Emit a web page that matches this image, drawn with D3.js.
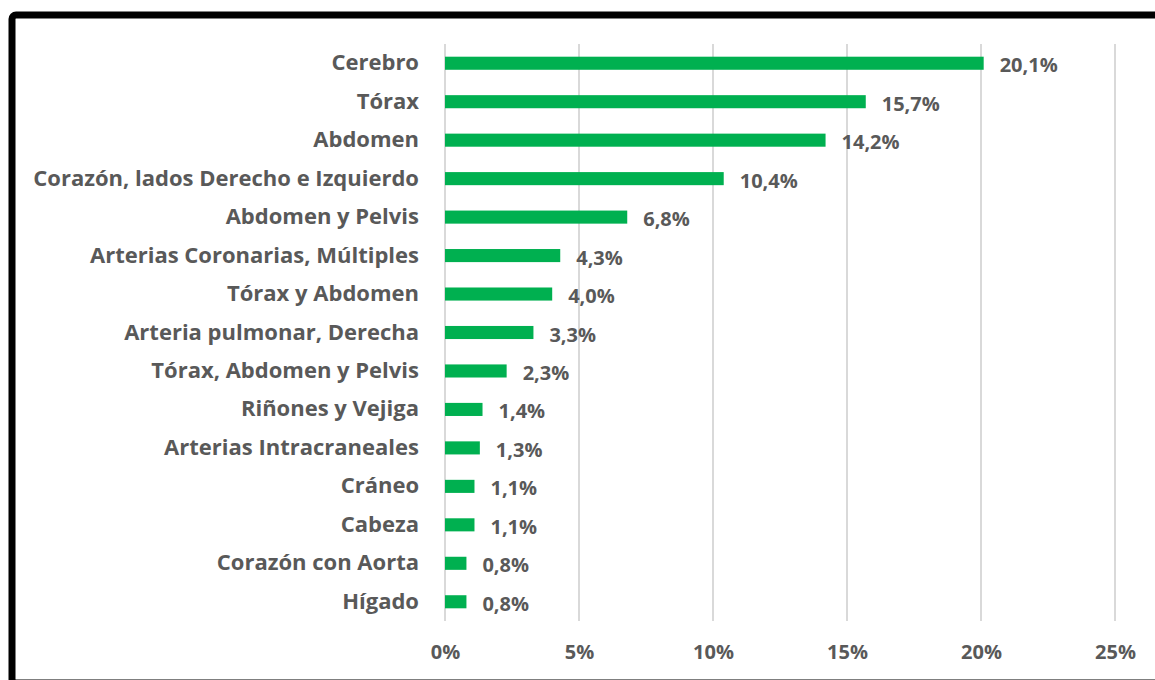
<!DOCTYPE html>
<html>
<head>
<meta charset="utf-8">
<script src="https://cdn.jsdelivr.net/npm/d3@7"></script>
<style>
  html, body { margin: 0; padding: 0; background: #fff; }
  svg { display: block; }
  text { font-family: "Open Sans", Lato, sans-serif; font-weight: bold; fill: #595959; }
</style>
</head>
<body>
<div id="chart-wrap"></div>
<script>
const categories = ['Cerebro', 'Tórax', 'Abdomen', 'Corazón, lados Derecho e Izquierdo', 'Abdomen y Pelvis',
  'Arterias Coronarias, Múltiples', 'Tórax y Abdomen', 'Arteria pulmonar, Derecha', 'Tórax, Abdomen y Pelvis',
  'Riñones y Vejiga', 'Arterias Intracraneales', 'Cráneo', 'Cabeza', 'Corazón con Aorta', 'Hígado'];
const values = [20.1, 15.7, 14.2, 10.4, 6.8, 4.3, 4.0, 3.3, 2.3, 1.4, 1.3, 1.1, 1.1, 0.8, 0.8];
const ticks = [0, 5, 10, 15, 20, 25];

const width = 1155;
const height = 680;
const margin = { top: 44, right: 40, bottom: 59, left: 445 };

const svg = d3.select('#chart-wrap').append('svg')
  .attr('width', width)
  .attr('height', height);

// frame
svg.append('rect')
  .attr('x', 12)
  .attr('y', 15)
  .attr('width', 1200)
  .attr('height', 668)
  .attr('rx', 4)
  .attr('fill', 'none')
  .attr('stroke', '#000')
  .attr('stroke-width', 7);

const x = d3.scaleLinear()
  .domain([0, 25])
  .range([margin.left, margin.left + 670]);

const y = d3.scaleBand()
  .domain(categories)
  .range([margin.top, height - margin.bottom])
  .paddingInner(0.66)
  .paddingOuter(0.33);

// gridlines
svg.append('g')
  .selectAll('line')
  .data(ticks)
  .enter()
  .append('line')
  .attr('x1', d => x(d))
  .attr('x2', d => x(d))
  .attr('y1', margin.top)
  .attr('y2', height - margin.bottom)
  .attr('stroke', '#d9d9d9')
  .attr('stroke-width', 2);

// bars
svg.append('g')
  .selectAll('rect')
  .data(values)
  .enter()
  .append('rect')
  .attr('x', x(0))
  .attr('y', (d, i) => y(categories[i]))
  .attr('width', d => x(d) - x(0))
  .attr('height', y.bandwidth())
  .attr('fill', '#00b050');

// value labels
svg.append('g')
  .selectAll('text')
  .data(values)
  .enter()
  .append('text')
  .attr('x', d => x(d) + 16)
  .attr('y', (d, i) => y(categories[i]) + y.bandwidth() / 2 + 2)
  .attr('dy', '0.35em')
  .style('font-size', '20px')
  .text(d => d.toFixed(1).replace('.', ',') + '%');

// category axis
const yAxis = svg.append('g')
  .attr('transform', `translate(${margin.left},0)`)
  .call(d3.axisLeft(y).tickSize(0).tickPadding(26));
yAxis.select('.domain').remove();
yAxis.selectAll('text')
  .style('font-size', '22px')
  .style('font-family', null)
  .attr('fill', null);

// value axis
const xAxis = svg.append('g')
  .attr('transform', `translate(0,${height - margin.bottom})`)
  .call(d3.axisBottom(x).tickValues(ticks).tickSize(0).tickPadding(24).tickFormat(d => d + '%'));
xAxis.select('.domain').remove();
xAxis.selectAll('text')
  .style('font-size', '20px')
  .style('font-family', null)
  .attr('fill', null);
</script>
</body>
</html>
